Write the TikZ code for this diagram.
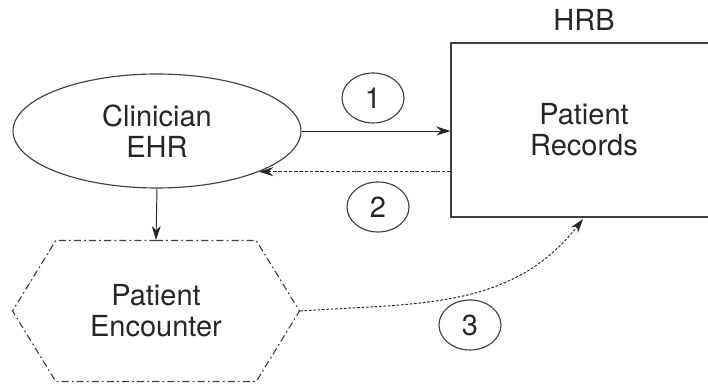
\documentclass[tikz,border=0pt]{standalone}
\usepackage{fontspec}
\setmainfont{TeX Gyre Heros}
\usepackage{tikz}
\usetikzlibrary{arrows.meta, positioning, shapes.geometric, shapes.symbols}

\begin{document}
\begin{tikzpicture}[x=0.02cm, y=-0.02cm,
    every node/.style={font=\fontsize{16.5}{17.6}\selectfont, align=center, text=black!85},
    part/.style={draw=black!75, line width=0.65pt},
    num/.style={part, ellipse, minimum width=1.24cm, minimum height=1.0cm, inner sep=0pt},
    link/.style={line width=0.55pt, draw=black!85, -{Stealth[length=2.8mm, width=1.8mm]}}]

  \useasboundingbox (0,0) rectangle (708,384);

  % Clinician side
  \node[part, ellipse, minimum width=5.76cm, minimum height=2.28cm] (ehr) at (157,131) {Clinician\\EHR};
  \node[part, signal, signal to=east and west, signal pointer angle=117,
        minimum width=5.74cm, minimum height=2.82cm, dash pattern=on 4pt off 1.8pt on 1pt off 1.8pt]
        (enc) at (156,311) {Patient\\Encounter};

  % Health record bank (right side runs off the page)
  \node[part, rectangle, minimum width=5.32cm, minimum height=3.48cm] (rec) at (584,130) {Patient\\Records};
  \node (hrb) at (584,20) {HRB};

  % Exchanges
  \draw[link] (ehr.east) -- (ehr.east -| rec.west);
  \draw[link, dash pattern=on 2pt off 1pt] (rec.west |- ehr.south east) -- (ehr.south east);
  \draw[link] (ehr.south) -- (enc.north);
  \coordinate (tip) at ([xshift=-0.02cm, yshift=-0.03cm]rec.south);
  \draw[link, dash pattern=on 1.5pt off 1pt] (enc.east) to[out=4, in=232] (tip);

  % Step numbers
  \node[num] (n1) at (373,98) {1};
  \node[num] (n2) at (378,207) {2};
  \node[num] (n3) at (470,325) {3};

\end{tikzpicture}
\end{document}
